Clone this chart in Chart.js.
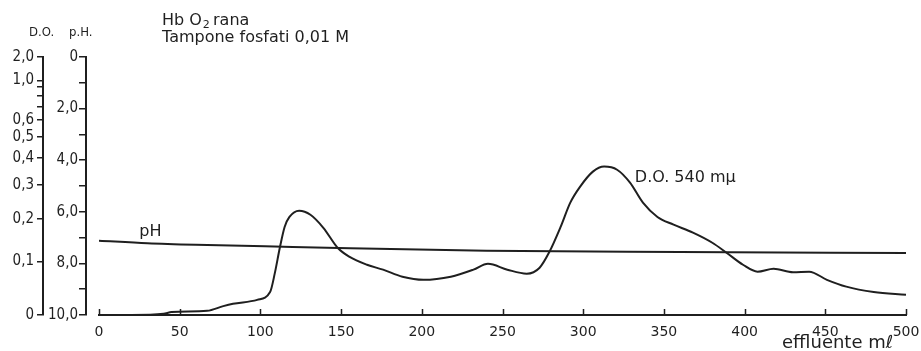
<!DOCTYPE html>
<html>
<head>
<meta charset="utf-8">
<script src="https://cdn.jsdelivr.net/npm/chart.js@4.4.1/dist/chart.umd.min.js"></script>
<style>
  body { margin: 0; background: #fff; }
  #wrap { width: 921px; height: 351px; }
</style>
</head>
<body>
<div id="wrap"><canvas id="chart" width="921" height="351"></canvas></div>
<script>
// ---- effluent volume (ml) and optical density at 540 mµ ----
const effluentMl = [0, 20, 40, 45, 67, 77, 83, 98, 106, 109, 112, 115, 118, 124, 131, 139, 148, 155, 166, 176, 188, 201, 218, 232, 241, 253, 265, 273, 279, 286, 292, 298, 306, 313, 321, 329, 337, 346, 356, 368, 380, 389, 399, 408, 418, 430, 440, 451, 463, 480, 500];
const opticalDensity = [0, 0, 0.002, 0.005, 0.007, 0.015, 0.019, 0.026, 0.040, 0.077, 0.129, 0.179, 0.205, 0.222, 0.211, 0.177, 0.129, 0.110, 0.093, 0.083, 0.069, 0.063, 0.069, 0.083, 0.095, 0.083, 0.075, 0.087, 0.120, 0.179, 0.245, 0.294, 0.347, 0.366, 0.354, 0.308, 0.245, 0.205, 0.185, 0.165, 0.141, 0.118, 0.093, 0.079, 0.085, 0.078, 0.079, 0.063, 0.050, 0.040, 0.035];

// ---- pH of the effluent ----
const phMl = [0, 30, 60, 120, 240, 360, 500];
const phValues = [7.12, 7.22, 7.28, 7.36, 7.51, 7.56, 7.60];

// ---- axis ticks ----
const xTicks = [0, 50, 100, 150, 200, 250, 300, 350, 400, 450, 500];
const doTicks = [2.0, 1.0, 0.9, 0.8, 0.7, 0.6, 0.5, 0.4, 0.3, 0.2, 0.1, 0];
const doTickLabels = ['2,0', '1,0', '', '', '', '0,6', '0,5', '0,4', '0,3', '0,2', '0,1', '0'];
const phTicks = [0, 1, 2, 3, 4, 5, 6, 7, 8, 9, 10];
const phTickLabels = ['0', '', '2,0', '', '4,0', '', '6,0', '', '8,0', '', '10,0'];

const INK = '#1f1f1f';
const TEXT_FONT = '"DejaVu Sans", sans-serif';
const TICK_FONT = '"Liberation Sans Narrow", "DejaVu Sans Condensed", sans-serif';

// D.O. scale is laid out linearly in transmittance (T = 10^-D.O.)
const toT = d => Math.pow(10, -d);

const doPoints = effluentMl.map((ml, i) => ({ x: ml, y: toT(opticalDensity[i]) }));
const phPoints = phMl.map((ml, i) => ({ x: ml, y: phValues[i] }));

// x ticks point up into the plot, drawn from the x scale
const upTicksPlugin = {
    id: 'upTicks',
    afterDraw(chart) {
        const ctx = chart.ctx;
        const xs = chart.scales.x;
        const y0 = chart.chartArea.bottom;
        ctx.save();
        ctx.strokeStyle = INK;
        ctx.lineWidth = 1.5;
        ctx.beginPath();
        xs.ticks.forEach(t => {
            const px = Math.round(xs.getPixelForValue(t.value)) + 0.5;
            ctx.moveTo(px, y0);
            ctx.lineTo(px, y0 - 6);
        });
        ctx.stroke();
        ctx.restore();
    }
};

// free text: header, series labels, x axis title
const textPlugin = {
    id: 'chartTexts',
    afterDraw(chart) {
        const ctx = chart.ctx;
        const xs = chart.scales.x;
        const ph = chart.scales.ph;
        const od = chart.scales.do;
        ctx.save();
        ctx.fillStyle = INK;
        ctx.textBaseline = 'alphabetic';
        ctx.textAlign = 'left';

        ctx.font = '13px ' + TICK_FONT;
        ctx.fillText('D.O.', 29, 36);
        ctx.fillText('p.H.', 69, 36);

        ctx.font = '16px ' + TEXT_FONT;
        ctx.fillText('Hb O', 162, 25);
        const w = ctx.measureText('Hb O').width;
        ctx.font = '11px ' + TEXT_FONT;
        ctx.fillText('2', 162 + w + 1, 28);
        ctx.font = '16px ' + TEXT_FONT;
        ctx.fillText('rana', 213, 25);
        ctx.fillText('Tampone fosfati 0,01 M', 162, 42);

        // series labels placed in data space
        ctx.fillText('pH', xs.getPixelForValue(25), ph.getPixelForValue(6.94));
        ctx.fillText('D.O. 540 mμ', xs.getPixelForValue(332), od.getPixelForValue(toT(0.311)));

        ctx.font = '18px ' + TEXT_FONT;
        ctx.fillText('effluente mℓ', 782, 348);
        ctx.restore();
    }
};

const ctx = document.getElementById('chart').getContext('2d');
new Chart(ctx, {
    type: 'line',
    data: {
        datasets: [
            {
                label: 'D.O. 540 mμ',
                data: doPoints,
                yAxisID: 'do',
                borderColor: INK,
                borderWidth: 2,
                pointRadius: 0,
                cubicInterpolationMode: 'monotone',
                clip: 6
            },
            {
                label: 'pH',
                data: phPoints,
                yAxisID: 'ph',
                borderColor: INK,
                borderWidth: 2,
                pointRadius: 0,
                cubicInterpolationMode: 'monotone',
                clip: 6
            }
        ]
    },
    options: {
        responsive: false,
        animation: false,
        events: [],
        layout: { padding: { top: 57, right: 0, left: 0, bottom: 0 } },
        plugins: { legend: { display: false }, tooltip: { enabled: false } },
        scales: {
            x: {
                type: 'linear',
                min: 0,
                max: 500,
                afterBuildTicks: s => { s.ticks = xTicks.map(v => ({ value: v })); },
                afterFit: s => { s.height = 36; s.paddingLeft = 0; s.paddingRight = 15; },
                border: { display: true, color: INK, width: 2 },
                grid: { display: false },
                ticks: {
                    autoSkip: false, maxRotation: 0, padding: 1,
                    color: INK, font: { family: 'DejaVu Sans', size: 14 }
                }
            },
            do: {
                type: 'linear',
                position: 'left',
                weight: 2,
                min: 0.01,
                max: 1,
                reverse: true,
                afterBuildTicks: s => { s.ticks = doTicks.map(d => ({ value: toT(d) })); },
                afterFit: s => { s.width = 43; },
                border: { display: true, color: INK, width: 2 },
                grid: { display: true, drawOnChartArea: false, tickLength: 6, color: INK, lineWidth: 1.5 },
                ticks: {
                    autoSkip: false, padding: 3, color: INK,
                    font: { family: TICK_FONT, size: 15 },
                    callback: (v, i) => doTickLabels[i]
                }
            },
            ph: {
                type: 'linear',
                position: 'left',
                weight: 1,
                min: 0,
                max: 10,
                reverse: true,
                afterBuildTicks: s => { s.ticks = phTicks.map(v => ({ value: v })); },
                afterFit: s => { s.width = 43; },
                border: { display: true, color: INK, width: 2 },
                grid: { display: true, drawOnChartArea: false, tickLength: 7, color: INK, lineWidth: 1.5 },
                ticks: {
                    autoSkip: false, padding: 1, color: INK,
                    font: { family: TICK_FONT, size: 15 },
                    callback: (v, i) => phTickLabels[i]
                }
            },
            // empty strip between the pH axis and the plot
            gap: {
                type: 'linear',
                position: 'left',
                weight: 0,
                afterFit: s => { s.width = 13; },
                border: { display: false },
                grid: { display: false },
                ticks: { display: false }
            }
        }
    },
    plugins: [upTicksPlugin, textPlugin]
});
</script>
</body>
</html>
